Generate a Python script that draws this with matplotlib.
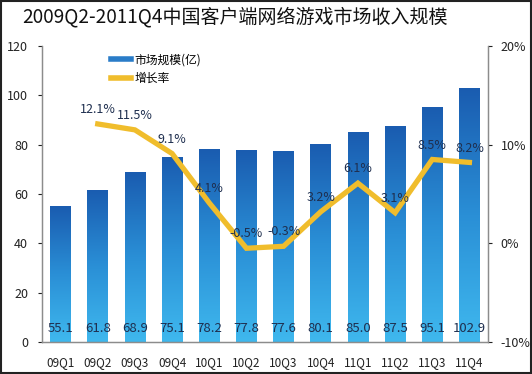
import matplotlib
matplotlib.use("Agg")
import matplotlib.pyplot as plt
import numpy as np
from matplotlib.lines import Line2D
from matplotlib.patches import Rectangle
from matplotlib.colors import LinearSegmentedColormap

plt.rcParams['font.family'] = ['Noto Sans CJK SC', 'DejaVu Sans']

title = "2009Q2-2011Q4中国客户端网络游戏市场收入规模"
quarters = ["09Q1", "09Q2", "09Q3", "09Q4", "10Q1", "10Q2", "10Q3", "10Q4",
            "11Q1", "11Q2", "11Q3", "11Q4"]
revenue = [55.1, 61.8, 68.9, 75.1, 78.2, 77.8, 77.6, 80.1, 85.0, 87.5, 95.1, 102.9]
growth_quarters = quarters[1:]
growth = [12.1, 11.5, 9.1, 4.1, -0.5, -0.3, 3.2, 6.1, 3.1, 8.5, 8.2]
left_ticks = [0, 20, 40, 60, 80, 100, 120]
right_ticks = [-10, 0, 10, 20]

fig = plt.figure(figsize=(5.32, 3.74), dpi=100)
ax = fig.add_axes([42/532, (374-342)/374, (488-42)/532, (342-46)/374])
ax2 = ax.twinx()

x = np.arange(len(quarters))
bars = ax.bar(x, revenue, width=0.56, color='none', edgecolor='none', zorder=2)
cmap = LinearSegmentedColormap.from_list('g', ['#3fb8ee', '#2a8fd6', '#1a5cb0'])
grad = np.linspace(0, 1, 256).reshape(-1, 1)
for b in bars:
    x0, w, h = b.get_x(), b.get_width(), b.get_height()
    im = ax.imshow(grad, extent=[x0, x0 + w, 0, h], origin='lower', cmap=cmap,
                   aspect='auto', zorder=2)
    im.set_clip_path(b)
for xi, v in zip(x, revenue):
    ax.text(xi, 5.5, f"{v:.1f}", ha='center', va='center', fontsize=9.5,
            color='#1f2f4f', zorder=5)

ax.set_xlim(-0.5, len(quarters) - 0.5)
ax.set_ylim(0, 120)
ax.set_yticks(left_ticks)
ax.set_xticks(x)
ax.set_xticklabels(quarters, fontsize=8.5, color='#222222')
ax.tick_params(axis='x', length=0, pad=10)
ax.tick_params(axis='y', labelsize=9, colors='#222222', length=3, width=0.8,
               pad=7)
for t in ax.get_yticklines():
    t.set_color('#888888')

gx = [quarters.index(q) for q in growth_quarters]
ax2.plot(gx, growth, color='#f0bd2c', lw=3.8, solid_joinstyle='miter', zorder=4)
for xi, v in zip(gx, growth):
    ax2.text(xi, v + 1.45, f"{v:.1f}%", ha='center', va='center', fontsize=9,
             color='#1f2f4f', zorder=5)
ax2.set_ylim(-10, 20)
ax2.set_yticks(right_ticks)
ax2.set_yticklabels([f"{t}%" for t in right_ticks])
ax2.tick_params(axis='y', labelsize=9, colors='#222222', length=3, width=0.8,
                pad=6)
for t in ax2.get_yticklines():
    t.set_color('#888888')

for a in (ax, ax2):
    a.spines['top'].set_visible(False)
    for s in ('left', 'right', 'bottom'):
        a.spines[s].set_color('#8c8c8c')
        a.spines[s].set_linewidth(0.9)
    a.set_facecolor('none')
ax.set_zorder(ax2.get_zorder() - 1)
ax2.patch.set_visible(False)

handles = [Line2D([0], [0], color='#2a7cc8', lw=4),
           Line2D([0], [0], color='#f0bd2c', lw=4)]
fig.legend(handles, ["市场规模(亿)", "增长率"], loc='upper left',
           bbox_to_anchor=(100/532, 1 - 43/374), frameon=False, fontsize=8.5,
           handlelength=1.7, handletextpad=0.3, labelspacing=0.45)

fig.text(22/532, 1 - 17/374, title, ha='left', va='center', fontsize=13.7,
         color='#111111')

fig.patches.append(Rectangle((0.001, 0.002), 0.997, 0.996, transform=fig.transFigure,
                             fill=False, edgecolor='#222222', lw=1.5))

fig.savefig("out.png", dpi=100)
